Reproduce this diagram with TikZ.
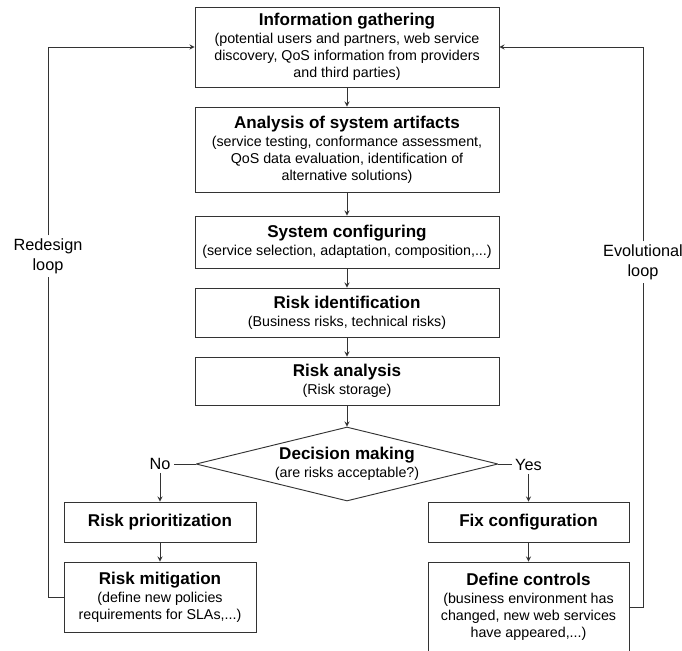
\documentclass[tikz,border=0pt]{standalone}
\usepackage{fontspec}
\setmainfont{Liberation Sans}
\usetikzlibrary{shapes, arrows, calc, positioning}

\newcommand{\headfont}{\fontsize{12.8}{14}\selectfont\bfseries}
\newcommand{\bodyfont}{\fontsize{10.7}{12.75}\selectfont}
\newcommand{\loopfont}{\fontsize{12.2}{15}\selectfont}

\begin{document}
\begin{tikzpicture}[>=stealth, x=0.75pt, y=-0.75pt, line width=0.7pt]
	\tikzstyle{block} = [draw=black!80, text=black, rectangle, align=center, inner sep=2pt, font=\bodyfont]
	\tikzstyle{decision} = [draw=black!80, text=black, diamond, aspect=4, inner sep=0pt, align=center, font=\bodyfont, miter limit=2]
	\tikzstyle{answer} = [text=black, inner sep=2pt, font=\loopfont]
	\tikzstyle{loop} = [text=black, align=center, inner sep=2pt, font=\loopfont]

	\useasboundingbox (0,0) rectangle (682,650);

	\path[->, color=black!80]
		node[block, minimum width=228pt, minimum height=60pt] (info) at (347,47)
			{{\headfont Information gathering}\\[1pt](potential users and partners, web service\\discovery, QoS information from providers\\and third parties)}
		node[block, minimum width=228pt, minimum height=63.75pt] (analysis) at (347,149.5)
			{{\headfont Analysis of system artifacts}\\[1pt](service testing, conformance assessment,\\QoS data evaluation, identification of\\alternative solutions)}
		node[block, minimum width=228pt, minimum height=39pt] (sysconf) at (347,242)
			{{\headfont System configuring}\\[1pt](service selection, adaptation, composition,...)}
		node[block, minimum width=228pt, minimum height=36.75pt] (riskid) at (347,312.5)
			{{\headfont Risk identification}\\[1pt](Business risks, technical risks)}
		node[block, minimum width=228pt, minimum height=36pt] (riskana) at (347,381)
			{{\headfont Risk analysis}\\[1pt](Risk storage)}
		node[decision, minimum width=226.5pt, minimum height=55.5pt] (decide) at (347,464)
			{{\headfont Decision making}\\[1pt](are risks acceptable?)}
		node[answer] (no) at (160,464) {No}
		node[answer] (yes) at (528.5,465) {Yes}
		node[block, minimum width=144pt, minimum height=30pt] (prio) at (160,522)
			{\headfont Risk prioritization}
		node[block, minimum width=144pt, minimum height=52.5pt] (mitig) at (160,597)
			{{\headfont Risk mitigation}\\[1pt](define new policies\\requirements for SLAs,...)}
		node[block, minimum width=150.75pt, minimum height=30pt] (fixconf) at (528.5,522)
			{\headfont Fix configuration}
		node[block, minimum width=150.75pt, minimum height=67.5pt] (controls) at (528.5,607)
			{{\headfont Define controls}\\[1pt](business environment has\\changed, new web services\\have appeared,...)}

		(info) edge (analysis)
		(analysis) edge (sysconf)
		(sysconf) edge (riskid)
		(riskid) edge (riskana)
		(riskana) edge (decide)
		(decide.west) edge[-] (no.east |- decide.west)
		(decide.east) edge[-] (yes.west |- decide.east)
		(no) edge (prio)
		(yes) edge (fixconf)
		(prio) edge (mitig)
		(fixconf) edge (controls)
	;

	% feedback loops
	\node[loop] (redesign) at (48,256) {Redesign\\loop};
	\node[loop] (evolution) at (643,262) {Evolutional\\loop};

	\draw[draw=black!80] (mitig) -| (redesign);
	\draw[->, draw=black!80] (redesign) |- (info);
	\draw[draw=black!80] (controls) -| (evolution);
	\draw[->, draw=black!80] (evolution) |- (info);
\end{tikzpicture}
\end{document}
